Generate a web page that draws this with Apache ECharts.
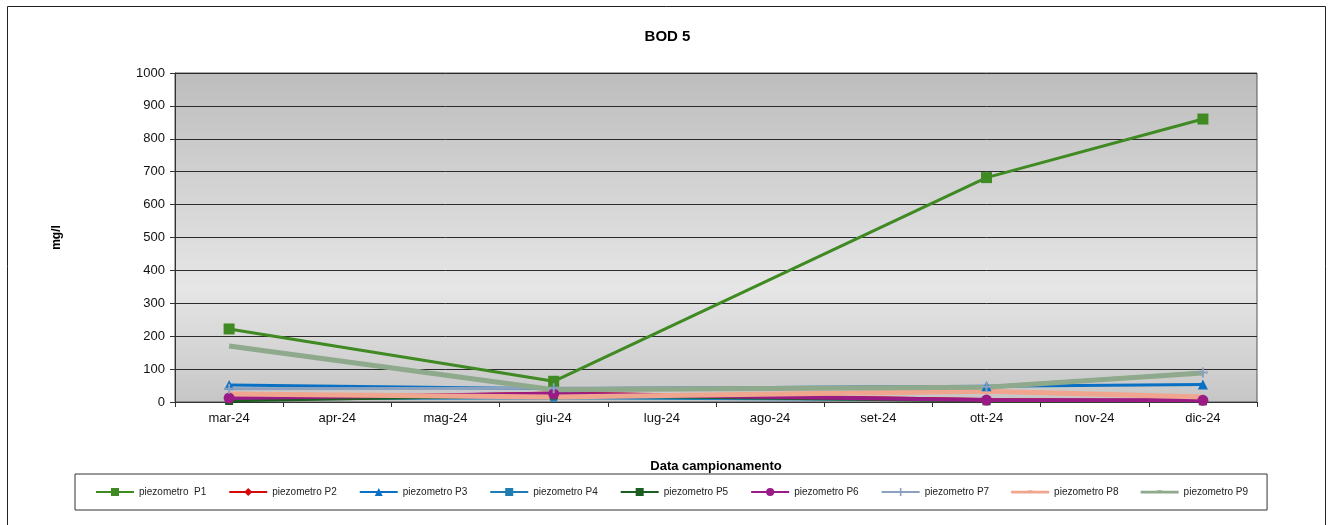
<!DOCTYPE html>
<html>
<head>
<meta charset="utf-8">
<script src="https://cdn.jsdelivr.net/npm/echarts@6/dist/echarts.min.js"></script>
<style>
  html, body { margin: 0; padding: 0; background: #fff; }
  #chart { width: 1335px; height: 525px; }
</style>
</head>
<body>
<div id="chart"></div>
<script>
// dati campionamento
const months = ['mar-24', 'apr-24', 'mag-24', 'giu-24', 'lug-24', 'ago-24', 'set-24', 'ott-24', 'nov-24', 'dic-24'];
const seriesNames = ['piezometro  P1', 'piezometro P2', 'piezometro P3', 'piezometro P4', 'piezometro P5',
  'piezometro P6', 'piezometro P7', 'piezometro P8', 'piezometro P9'];
const p1 = [222, null, null, 63, null, null, null, 682, null, 860];
const p2 = [10, null, null, 28, null, null, null, 8, null, 5];
const p3 = [52, null, null, 40, null, null, null, 48, null, 53];
const p4 = [8, null, null, 12, null, null, null, 5, null, 5];
const p5 = [3, null, null, 20, null, null, null, 2, null, 2];
const p6 = [12, null, null, 25, null, null, null, 6, null, 5];
const p7 = [40, null, null, 42, null, null, null, 46, null, 90];
const p8 = [24, null, null, 15, null, null, null, 33, null, 15];
const p9 = [170, null, null, 37, null, null, null, 45, null, 88];
const yTicks = [0, 100, 200, 300, 400, 500, 600, 700, 800, 900, 1000];

const plusPath = 'path://M4,0 L6,0 L6,4 L10,4 L10,6 L6,6 L6,10 L4,10 L4,6 L0,6 L0,4 L4,4 Z';
// icona legenda solo linea (P8, P9)
const lineIcon = 'path://M0,0 L0,0 M0,3.8 L16,3.8 L17,3.2 L21,3.2 L22,3.8 L38,3.8 L38,6.4 L0,6.4 Z M0,10 L0,10';

function makeSeries(name, data, color, symbol, size, width) {
  return {
    name: name,
    type: 'line',
    data: data,
    connectNulls: true,
    symbol: symbol,
    symbolSize: size,
    showSymbol: symbol !== 'none',
    lineStyle: { color: color, width: width },
    itemStyle: { color: color },
    emphasis: { disabled: true }
  };
}

const legendData = seriesNames.map((name, i) => (i >= 7 ? { name: name, icon: lineIcon } : name));

const chart = echarts.init(document.getElementById('chart'));
chart.setOption({
  animation: false,
  textStyle: { fontFamily: 'Liberation Sans, Arial, sans-serif' },
  title: {
    text: 'BOD 5',
    left: 'center',
    top: 24,
    textStyle: { fontSize: 15, fontWeight: 'bold', color: '#000' }
  },
  graphic: [{
    type: 'rect',
    shape: { x: 7.5, y: 6.5, width: 1318, height: 540 },
    style: { fill: 'none', stroke: '#222', lineWidth: 1 },
    silent: true
  }],
  grid: {
    left: 175,
    right: 78,
    top: 73,
    bottom: 123,
    show: true,
    borderColor: '#555',
    borderWidth: 1,
    backgroundColor: {
      type: 'linear', x: 0, y: 0, x2: 0, y2: 1,
      colorStops: [
        { offset: 0, color: '#bdbdbd' },
        { offset: 0.65, color: '#e6e6e6' },
        { offset: 1, color: '#c6c6c6' }
      ]
    }
  },
  legend: {
    left: 75,
    top: 474,
    padding: [13, 19, 13, 20],
    borderColor: '#333',
    borderWidth: 1,
    itemWidth: 38,
    itemHeight: 10,
    itemGap: 22,
    data: legendData,
    textStyle: { fontSize: 10, color: '#222' }
  },
  xAxis: {
    type: 'category',
    data: months,
    boundaryGap: true,
    name: 'Data campionamento',
    nameLocation: 'middle',
    nameGap: 58,
    nameTextStyle: { fontSize: 13, fontWeight: 'bold', color: '#000' },
    axisLine: { lineStyle: { color: '#333', width: 1 } },
    axisTick: { show: true, length: 5, interval: 0, lineStyle: { color: '#333' } },
    axisLabel: { fontSize: 13, color: '#111', margin: 10, interval: 0 },
    splitLine: { show: false }
  },
  yAxis: {
    type: 'value',
    min: yTicks[0],
    max: yTicks[yTicks.length - 1],
    interval: 100,
    name: 'mg/l',
    nameLocation: 'middle',
    nameGap: 112,
    nameRotate: 90,
    nameTextStyle: { fontSize: 12, fontWeight: 'bold', color: '#000' },
    axisLine: { show: true, lineStyle: { color: '#333', width: 1 } },
    axisTick: { show: true, length: 5, lineStyle: { color: '#333' } },
    axisLabel: { fontSize: 13, color: '#111', margin: 10, formatter: v => String(v) },
    splitLine: { show: true, lineStyle: { color: '#2b2b2b', width: 1 } }
  },
  series: [
    makeSeries(seriesNames[0], p1, '#3f8a22', 'rect', 11, 3),
    makeSeries(seriesNames[1], p2, '#d40a0a', 'diamond', 7, 2.5),
    makeSeries(seriesNames[2], p3, '#0a70c4', 'triangle', 10, 3),
    makeSeries(seriesNames[3], p4, '#1f7db4', 'rect', 7, 2.5),
    makeSeries(seriesNames[4], p5, '#1b5e1f', 'rect', 8, 2.5),
    makeSeries(seriesNames[5], p6, '#9a1a86', 'circle', 11, 4),
    makeSeries(seriesNames[6], p7, '#8ba1be', plusPath, 10, 3),
    makeSeries(seriesNames[7], p8, '#f0a58f', 'none', 6, 5),
    makeSeries(seriesNames[8], p9, '#8fa98c', 'none', 6, 5)
  ]
});
</script>
</body>
</html>
